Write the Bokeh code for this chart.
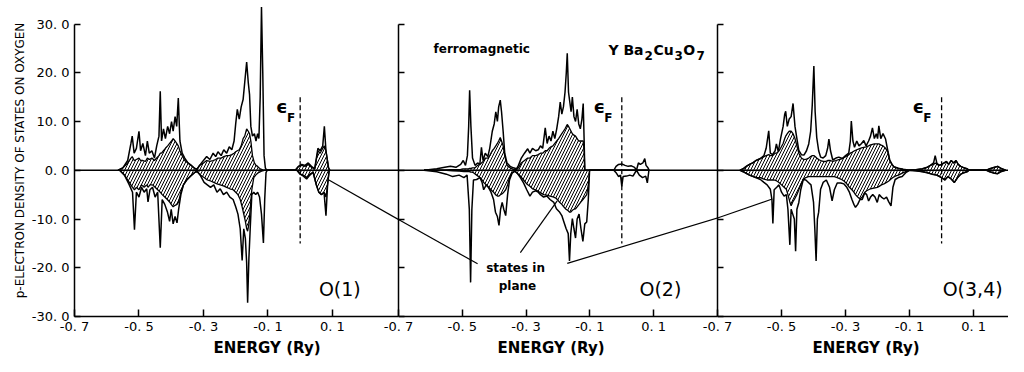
from math import pi
from bokeh.plotting import figure
from bokeh.layouts import row
from bokeh.models import FixedTicker, Span, Label, Title
from bokeh.embed import file_html
from bokeh.resources import INLINE

FONT = "DejaVu Sans"

# ---------------- data ----------------
x_ticks = [-0.7, -0.5, -0.3, -0.1, 0.1]
x_tick_labels = ["-0. 7", "-0. 5", "-0. 3", "-0. 1", "0. 1"]
y_ticks = [-30, -20, -10, 0, 10, 20, 30]
y_tick_labels = ["-30. 0", "-20. 0", "-10. 0", "0. 0", "10. 0", "20. 0", "30. 0"]
panel_names = ["O(1)", "O(2)", "O(3,4)"]
fermi_energy = 0.0

# O(1) spin up: energy, total p-DOS, in-plane p-DOS
e1_up = [-0.565, -0.550, -0.535, -0.525, -0.521, -0.515, -0.508, -0.500, -0.495, -0.488,
         -0.480, -0.474, -0.468, -0.460, -0.452, -0.445, -0.438, -0.434, -0.430, -0.424,
         -0.418, -0.411, -0.405, -0.399, -0.394, -0.388, -0.383, -0.378, -0.373, -0.366,
         -0.358, -0.348, -0.338, -0.328, -0.320, -0.312, -0.300, -0.290, -0.280, -0.270,
         -0.262, -0.255, -0.245, -0.237, -0.228, -0.220, -0.212, -0.205, -0.200, -0.195,
         -0.189, -0.183, -0.177, -0.172, -0.166, -0.161, -0.157, -0.153, -0.148, -0.142,
         -0.137, -0.132, -0.128, -0.124, -0.120, -0.116, -0.112, -0.108, -0.104, -0.015,
         -0.005, 0.005, 0.015, 0.025, 0.035, 0.045, 0.055, 0.062, 0.070, 0.075,
         0.080, 0.088, 0.092]
tot1_up = [0, 0.5, 2.0, 5.5, 7.0, 3.5, 4.5, 8.0, 4.0, 5.5,
           3.0, 6.0, 3.5, 4.0, 2.5, 5.0, 7.0, 16.2, 6.0, 8.5,
           6.5, 9.0, 7.5, 10.0, 8.0, 11.0, 9.0, 14.8, 6.0, 3.5,
           2.5, 1.5, 1.0, 0.4, 0.2, 1.0, 2.0, 2.8, 2.2, 3.5,
           2.8, 3.8, 3.0, 4.2, 3.5, 4.8, 4.2, 6.0, 9.5, 12.5,
           10.5, 13.0, 14.5, 18.0, 22.2, 18.0, 15.5, 9.0, 7.0, 7.5,
           6.0, 7.5, 6.5, 15.0, 33.5, 20.0, 3.0, 0.5, 0, 0,
           0.8, 1.2, 1.0, 1.5, 0.8, 0.3, 4.5, 4.0, 5.0, 9.0,
           4.0, 0.5, 0]
pl1_up = [0, 0.5, 1.5, 2.5, 2.8, 2.0, 2.2, 2.5, 2.0, 2.0,
          1.8, 2.5, 2.2, 2.5, 2.0, 2.5, 3.0, 3.5, 3.5, 4.0,
          4.5, 5.0, 5.5, 6.0, 6.5, 6.0, 5.5, 5.0, 4.0, 3.0,
          2.0, 1.5, 1.0, 0.4, 0.2, 1.0, 1.5, 2.0, 1.8, 2.0,
          2.2, 2.5, 2.5, 2.8, 3.0, 3.0, 3.2, 3.5, 3.8, 4.0,
          4.2, 5.0, 6.5, 7.0, 8.5, 8.0, 7.5, 6.0, 3.0, 1.5,
          1.0, 0.8, 0.5, 0.3, 0.2, 0.1, 0, 0, 0, 0,
          0.8, 1.0, 0.8, 1.2, 0.6, 0.3, 4.0, 3.5, 4.5, 5.0,
          4.0, 0.5, 0]

# O(1) spin down
e1_dn = [-0.560, -0.545, -0.530, -0.520, -0.514, -0.508, -0.500, -0.492, -0.484, -0.476,
         -0.472, -0.466, -0.458, -0.450, -0.442, -0.434, -0.428, -0.420, -0.412, -0.405,
         -0.400, -0.394, -0.388, -0.382, -0.377, -0.370, -0.362, -0.352, -0.340, -0.328,
         -0.320, -0.310, -0.298, -0.288, -0.278, -0.268, -0.258, -0.248, -0.238, -0.228,
         -0.218, -0.208, -0.200, -0.193, -0.186, -0.180, -0.175, -0.170, -0.166, -0.163,
         -0.159, -0.155, -0.150, -0.144, -0.138, -0.132, -0.126, -0.120, -0.114, -0.110,
         -0.106, -0.102, -0.010, 0.000, 0.010, 0.020, 0.030, 0.040, 0.050, 0.058,
         0.066, 0.074, 0.080, 0.085, 0.090]
tot1_dn = [0, -1.0, -3.0, -4.5, -12.2, -4.5, -5.5, -3.5, -4.5, -3.8,
           -6.5, -4.0, -3.5, -5.5, -4.5, -15.9, -6.0, -7.0, -8.5, -10.5,
           -8.0, -11.0, -9.5, -10.8, -8.0, -5.0, -3.0, -2.0, -1.2, -0.5,
           -0.2, -1.0, -2.5, -3.0, -3.5, -3.0, -4.5, -3.8, -5.0, -4.5,
           -5.5, -6.0, -7.5, -9.0, -12.0, -18.5, -12.0, -14.0, -19.0, -27.2,
           -18.0, -12.0, -5.0, -4.5, -5.0, -4.5, -5.5, -9.0, -14.9, -6.0,
           -0.5, 0, 0, -0.8, -1.2, -1.8, -1.0, -0.4, -3.0, -4.5,
           -5.0, -4.5, -9.3, -3.0, 0]
pl1_dn = [0, -1.0, -2.5, -3.5, -4.0, -3.5, -4.0, -3.0, -3.5, -3.0,
          -3.5, -3.0, -3.0, -3.5, -4.0, -4.5, -5.0, -5.5, -6.0, -6.5,
          -7.0, -7.5, -7.2, -7.0, -6.5, -4.5, -3.0, -2.0, -1.2, -0.5,
          -0.2, -1.0, -1.5, -2.0, -2.2, -2.5, -2.8, -3.0, -3.2, -3.5,
          -3.8, -4.0, -4.5, -5.0, -6.0, -7.5, -9.0, -10.5, -12.0, -12.5,
          -11.0, -8.0, -4.0, -1.5, -1.0, -0.6, -0.4, -0.2, -0.1, 0,
          0, 0, 0, -0.8, -1.0, -1.5, -0.8, -0.4, -3.0, -4.5,
          -5.0, -4.5, -5.5, -3.0, 0]

# O(2) spin up
e2_up = [-0.620, -0.580, -0.555, -0.537, -0.520, -0.505, -0.497, -0.490, -0.484, -0.480,
         -0.477, -0.473, -0.468, -0.460, -0.452, -0.445, -0.440, -0.435, -0.428, -0.420,
         -0.414, -0.406, -0.400, -0.395, -0.390, -0.386, -0.381, -0.377, -0.372, -0.367,
         -0.360, -0.350, -0.340, -0.330, -0.324, -0.315, -0.305, -0.295, -0.288, -0.280,
         -0.270, -0.262, -0.255, -0.248, -0.240, -0.234, -0.228, -0.222, -0.216, -0.210,
         -0.204, -0.198, -0.193, -0.188, -0.183, -0.178, -0.174, -0.171, -0.167, -0.163,
         -0.159, -0.155, -0.150, -0.145, -0.140, -0.135, -0.130, -0.125, -0.121, -0.118,
         -0.116, -0.025, -0.018, -0.010, 0.000, 0.010, 0.020, 0.030, 0.040, 0.046,
         0.052, 0.058, 0.066, 0.072, 0.076, 0.082, 0.086]
tot2_up = [0, 0.3, 0.6, 0.8, 0.6, 1.2, 2.0, 1.0, 3.0, 9.0,
           16.4, 9.0, 2.5, 1.0, 1.5, 1.2, 4.7, 2.0, 3.5, 2.8,
           4.5, 8.0, 9.5, 12.0, 10.0, 13.0, 14.4, 12.0, 8.0, 3.5,
           1.5, 0.8, 0.5, 0.3, 1.0, 2.5, 3.5, 4.4, 3.5, 4.5,
           4.0, 4.2, 5.0, 4.5, 8.7, 5.5, 7.0, 6.0, 8.0, 6.5,
           8.5, 11.0, 14.0, 11.5, 13.0, 16.0, 20.0, 24.0, 16.0, 14.0,
           12.0, 15.0, 11.0, 10.0, 12.5, 9.5, 8.5, 10.5, 13.7, 6.0,
           0, 0, 0.8, 1.2, 1.3, 1.0, 0.8, 0.9, 0.6, 0,
           1.5, 1.2, 1.5, 2.4, 1.0, 0.5, 0]
pl2_up = [0, 0, 0, 0.1, 0.1, 0.2, 0.3, 0.3, 0.3, 0.3,
          0.4, 0.4, 0.5, 0.5, 1.0, 1.2, 1.5, 1.8, 2.5, 2.5,
          3.0, 4.0, 4.5, 5.0, 5.5, 6.0, 6.7, 6.0, 5.0, 3.0,
          1.0, 0.5, 0.2, 0.1, 0.5, 1.5, 2.0, 2.5, 2.5, 3.0,
          3.0, 3.2, 3.5, 3.5, 4.0, 4.0, 4.5, 4.8, 5.0, 5.5,
          6.0, 6.5, 7.0, 7.5, 8.0, 8.5, 9.0, 9.4, 9.0, 8.5,
          8.0, 7.5, 7.2, 7.0, 6.5, 6.0, 6.0, 6.0, 6.0, 4.0,
          0, 0, 0, 0, 0, 0, 0, 0, 0, 0,
          0, 0, 0, 0, 0, 0, 0]

# O(2) spin down
e2_dn = [-0.620, -0.580, -0.550, -0.530, -0.510, -0.495, -0.485, -0.478, -0.474, -0.470,
         -0.465, -0.455, -0.445, -0.438, -0.433, -0.425, -0.418, -0.410, -0.402, -0.396,
         -0.390, -0.385, -0.380, -0.375, -0.370, -0.364, -0.358, -0.352, -0.344, -0.335,
         -0.328, -0.318, -0.308, -0.298, -0.288, -0.280, -0.270, -0.262, -0.255, -0.245,
         -0.235, -0.225, -0.213, -0.205, -0.196, -0.188, -0.182, -0.175, -0.168, -0.164,
         -0.160, -0.155, -0.150, -0.145, -0.140, -0.134, -0.128, -0.122, -0.116, -0.110,
         -0.105, -0.101, -0.025, -0.018, -0.010, -0.004, 0.000, 0.004, 0.015, 0.025,
         0.035, 0.046, 0.055, 0.065, 0.075, 0.080, 0.085]
tot2_dn = [0, -0.3, -0.8, -1.3, -1.0, -1.5, -1.0, -8.0, -23.0, -8.0,
           -2.0, -1.9, -1.5, -2.5, -4.0, -3.0, -3.5, -4.5, -6.0, -8.6,
           -9.5, -11.3, -8.0, -6.6, -8.0, -9.3, -5.0, -2.0, -0.6, -0.2,
           -0.6, -1.5, -2.6, -4.0, -5.3, -4.5, -4.2, -4.5, -5.0, -5.5,
           -5.3, -6.0, -6.6, -7.9, -8.5, -9.3, -10.5, -11.9, -13.0, -18.6,
           -13.0, -9.9, -12.0, -13.9, -10.0, -9.0, -12.0, -14.6, -11.0, -10.6,
           -6.0, 0, 0, -0.5, -1.3, -1.0, -3.3, -1.3, -1.2, -1.0,
           -1.2, 0, -1.0, -1.5, -1.2, -2.6, 0]
pl2_dn = [0, 0, 0, -0.1, -0.2, -0.3, -0.3, -0.3, -0.4, -0.4,
          -0.5, -1.0, -1.5, -2.0, -2.5, -3.0, -3.5, -4.0, -4.5, -5.0,
          -5.3, -5.3, -5.0, -4.8, -4.5, -4.0, -3.0, -1.5, -0.5, -0.2,
          -0.6, -1.2, -2.0, -2.8, -3.3, -3.8, -4.0, -4.3, -4.6, -5.0,
          -5.1, -5.3, -5.5, -5.8, -6.5, -7.0, -7.5, -8.0, -8.3, -8.6,
          -8.6, -8.2, -8.0, -7.9, -7.5, -7.0, -6.5, -6.0, -5.5, -5.0,
          -3.0, 0, 0, 0, 0, 0, 0, 0, 0, 0,
          0, 0, 0, 0, 0, 0, 0]

# O(3,4) spin up
e3_up = [-0.630, -0.620, -0.610, -0.600, -0.590, -0.580, -0.566, -0.555, -0.548, -0.540,
         -0.535, -0.528, -0.520, -0.516, -0.510, -0.503, -0.495, -0.490, -0.487, -0.482,
         -0.476, -0.470, -0.464, -0.458, -0.452, -0.446, -0.438, -0.430, -0.422, -0.415,
         -0.409, -0.404, -0.399, -0.395, -0.390, -0.384, -0.378, -0.370, -0.362, -0.356,
         -0.352, -0.347, -0.340, -0.330, -0.321, -0.310, -0.300, -0.290, -0.285, -0.282,
         -0.277, -0.272, -0.265, -0.258, -0.250, -0.243, -0.236, -0.228, -0.222, -0.216,
         -0.210, -0.204, -0.200, -0.196, -0.190, -0.183, -0.175, -0.168, -0.162, -0.155,
         -0.149, -0.135, -0.120, -0.100, -0.080, -0.060, -0.045, -0.035, -0.025, -0.020,
         -0.015, -0.008, 0.000, 0.008, 0.015, 0.022, 0.030, 0.038, 0.045, 0.052,
         0.060, 0.070, 0.080, 0.086, 0.140, 0.150, 0.165, 0.175, 0.185, 0.200]
tot3_up = [0, 0.3, 0.8, 1.2, 1.5, 2.0, 2.4, 3.0, 4.5, 8.1,
           3.5, 3.2, 4.0, 5.4, 3.8, 6.5, 9.0, 11.5, 12.1, 9.0,
           10.5, 11.0, 13.7, 9.0, 6.5, 4.1, 3.2, 3.1, 4.0, 5.4,
           8.0, 13.4, 21.4, 12.0, 6.7, 4.0, 2.7, 2.5, 3.0, 4.5,
           6.4, 4.0, 2.1, 2.5, 2.7, 2.4, 3.0, 3.5, 6.0, 10.1,
           6.0, 4.7, 6.0, 5.0, 5.5, 6.1, 5.0, 6.0, 7.0, 8.7,
           6.5, 7.5, 6.5, 9.1, 6.5, 7.5, 6.4, 4.0, 2.1, 1.2,
           0.7, 0.4, 0.2, 0, 0.1, 0.3, 0.6, 1.0, 1.5, 3.0,
           1.5, 1.0, 1.2, 1.5, 1.8, 1.2, 2.0, 1.5, 2.0, 1.2,
           0.8, 0.5, 0.3, 0, 0, 0.3, 0.6, 0.8, 0.4, 0]
pl3_up = [0, 0.3, 0.8, 1.2, 1.5, 2.0, 2.4, 2.8, 3.0, 3.2,
          3.0, 3.0, 3.5, 3.5, 3.8, 4.5, 5.5, 6.5, 7.0, 7.5,
          8.0, 8.0, 7.5, 6.5, 5.0, 3.5, 2.5, 2.2, 2.3, 2.5,
          2.8, 3.0, 3.0, 2.8, 2.5, 2.2, 2.0, 1.8, 1.8, 2.0,
          2.0, 2.0, 1.8, 2.0, 2.2, 2.4, 2.8, 3.2, 3.5, 3.6,
          3.8, 4.0, 4.2, 4.4, 4.6, 4.7, 4.8, 5.0, 5.2, 5.3,
          5.4, 5.4, 5.4, 5.4, 5.2, 5.0, 4.5, 3.8, 2.0, 1.2,
          0.7, 0.4, 0.2, 0, 0.1, 0.3, 0.6, 1.0, 1.2, 1.5,
          1.3, 1.0, 1.2, 1.5, 1.8, 1.2, 2.0, 1.5, 2.0, 1.2,
          0.8, 0.5, 0.3, 0, 0, 0.3, 0.6, 0.8, 0.4, 0]

# O(3,4) spin down
e3_dn = [-0.630, -0.620, -0.600, -0.580, -0.566, -0.555, -0.545, -0.535, -0.530, -0.527,
         -0.523, -0.515, -0.508, -0.500, -0.492, -0.485, -0.480, -0.474, -0.470, -0.465,
         -0.460, -0.456, -0.452, -0.446, -0.440, -0.432, -0.424, -0.416, -0.408, -0.400,
         -0.396, -0.392, -0.388, -0.384, -0.378, -0.370, -0.360, -0.350, -0.342, -0.335,
         -0.326, -0.315, -0.305, -0.296, -0.288, -0.280, -0.274, -0.269, -0.262, -0.255,
         -0.248, -0.240, -0.234, -0.228, -0.222, -0.215, -0.208, -0.201, -0.195, -0.188,
         -0.180, -0.172, -0.165, -0.158, -0.152, -0.145, -0.135, -0.123, -0.112, -0.100,
         -0.080, -0.060, -0.045, -0.030, -0.015, 0.000, 0.010, 0.020, 0.030, 0.040,
         0.050, 0.060, 0.070, 0.080, 0.086, 0.140, 0.150, 0.165, 0.175, 0.185,
         0.200]
tot3_dn = [0, -0.3, -1.0, -1.5, -1.9, -2.5, -3.0, -3.9, -6.0, -10.9,
           -4.0, -3.5, -3.0, -4.5, -5.3, -5.0, -8.0, -15.3, -8.0, -9.0,
           -10.0, -16.6, -8.0, -6.6, -4.0, -1.9, -2.0, -2.5, -3.0, -6.6,
           -12.0, -18.6, -10.0, -8.6, -3.9, -2.5, -2.0, -3.5, -6.3, -4.0,
           -2.6, -2.6, -2.8, -3.5, -4.5, -6.0, -7.0, -7.6, -7.0, -6.0,
           -6.0, -4.6, -5.0, -6.3, -5.5, -5.0, -5.5, -6.6, -5.0, -5.5,
           -5.9, -5.5, -6.5, -7.3, -3.5, -1.9, -1.5, -1.3, -0.5, 0,
           -0.1, -0.3, -0.5, -0.8, -1.0, -1.5, -2.0, -1.3, -1.8, -2.5,
           -1.5, -0.8, -0.5, -0.3, 0, 0, -0.3, -0.6, -0.7, -0.3,
           0]
pl3_dn = [0, -0.3, -1.0, -1.5, -1.5, -1.8, -2.0, -2.0, -2.0, -2.0,
          -2.0, -2.2, -2.5, -3.0, -3.5, -3.9, -5.0, -6.5, -7.3, -6.5,
          -6.0, -5.5, -5.0, -4.0, -3.0, -1.8, -1.5, -1.3, -1.3, -1.3,
          -1.3, -1.3, -1.3, -1.3, -1.3, -1.3, -1.3, -1.3, -1.3, -1.3,
          -1.5, -1.8, -2.2, -2.8, -3.5, -4.0, -4.5, -5.0, -5.5, -5.9,
          -5.5, -4.5, -4.2, -4.0, -3.8, -3.7, -3.6, -3.5, -3.3, -3.0,
          -2.8, -2.5, -2.2, -1.8, -1.5, -1.2, -1.0, -0.6, -0.3, 0,
          -0.1, -0.3, -0.5, -0.8, -1.0, -1.5, -2.0, -1.3, -1.8, -2.5,
          -1.5, -0.8, -0.5, -0.3, 0, 0, -0.3, -0.6, -0.7, -0.3,
          0]

for arrs in [(e1_up, tot1_up, pl1_up), (e1_dn, tot1_dn, pl1_dn), (e2_up, tot2_up, pl2_up),
             (e2_dn, tot2_dn, pl2_dn), (e3_up, tot3_up, pl3_up), (e3_dn, tot3_dn, pl3_dn)]:
    assert len(arrs[0]) == len(arrs[1]) == len(arrs[2]), [len(a) for a in arrs]

FH = 356


def txt(p, x, y, text, size, style="normal", align="left", baseline="alphabetic", **kw):
    p.add_layout(Label(x=x, y=y, text=text, text_font=FONT, text_font_size=size,
                       text_font_style=style, text_align=align, text_baseline=baseline,
                       text_color="black", **kw))


def make_panel(curves, x_end, width, border_left, margin_left, first, title_offset):
    p = figure(width=width, height=FH, x_range=(-0.7, x_end), y_range=(-30, 34),
               output_backend="svg", toolbar_location=None,
               min_border_left=border_left, min_border_right=0,
               min_border_top=4, min_border_bottom=30,
               margin=(0, 0, 0, margin_left))
    p.outline_line_color = None
    p.grid.visible = False
    p.background_fill_color = None
    p.border_fill_color = None

    xa = p.xaxis[0]
    xa.ticker = FixedTicker(ticks=x_ticks)
    xa.major_label_overrides = dict(zip(x_ticks, x_tick_labels))
    xa.major_tick_in = 7
    xa.major_tick_out = 0
    xa.minor_tick_line_color = None
    xa.axis_line_width = 1.5
    xa.major_tick_line_width = 1.5
    xa.major_label_text_font = FONT
    xa.major_label_text_font_size = "13px"
    xa.major_label_text_color = "black"
    xa.major_label_standoff = 2

    ya = p.yaxis[0]
    ya.ticker = FixedTicker(ticks=y_ticks)
    ya.bounds = (-30, 30)
    ya.major_tick_in = 6
    ya.major_tick_out = 0
    ya.minor_tick_line_color = None
    ya.axis_line_width = 1.5
    ya.major_tick_line_width = 1.5
    ya.major_label_text_font = FONT
    ya.major_label_text_font_size = "13px"
    ya.major_label_text_color = "black"
    if first:
        ya.major_label_overrides = dict(zip(y_ticks, y_tick_labels))
        ya.major_label_standoff = 5
    else:
        ya.major_label_overrides = {t: "" for t in y_ticks}
        ya.major_label_standoff = 0

    p.add_layout(Title(text="ENERGY (Ry)", align="left", offset=title_offset, standoff=0,
                       text_font=FONT, text_font_size="15px", text_font_style="bold",
                       text_color="black"), "below")

    p.add_layout(Span(location=0, dimension="width", line_color="black", line_width=1.3))

    for e, tot, pl in curves:
        p.varea(x=e, y1=0, y2=pl, fill_color=None, fill_alpha=0,
                hatch_pattern="/", hatch_color="black", hatch_scale=6, hatch_weight=1.0)
        p.line(e, pl, line_color="black", line_width=1.3)
        p.line(e, tot, line_color="black", line_width=1.5)

    p.segment(x0=[fermi_energy], y0=[15], x1=[fermi_energy], y1=[-15],
              line_color="black", line_width=1.3, line_dash="5 3")
    return p


# panel frames: 74-398, 398-717, 717-1008 px
p1 = make_panel([(e1_up, tot1_up, pl1_up), (e1_dn, tot1_dn, pl1_dn)],
                0.305, 398, 74, 0, True, 139)
p2 = make_panel([(e2_up, tot2_up, pl2_up), (e2_dn, tot2_dn, pl2_dn)],
                0.300, 335, 16, -16, False, 99)
p3 = make_panel([(e3_up, tot3_up, pl3_up), (e3_dn, tot3_dn, pl3_dn)],
                0.209, 307, 16, -16, False, 95)

# y-axis title
p1.add_layout(Title(text="p-ELECTRON DENSITY OF STATES ON OXYGEN", align="center", offset=-18,
                    standoff=4, text_font=FONT, text_font_size="12px", text_font_style="normal",
                    text_color="black"), "left")

# epsilon_F labels
for p, ex, fx in [(p1, -0.075, -0.041), (p2, -0.089, -0.055), (p3, -0.091, -0.057)]:
    txt(p, ex, 13.0, "\u03f5", "18px", "bold")
    txt(p, fx, 10.8, "F", "12px", "bold")

# panel names
for p, cx, name in [(p1, 0.123, panel_names[0]), (p2, 0.121, panel_names[1]), (p3, 0.097, panel_names[2])]:
    txt(p, cx, -24.4, name, "19px", "normal", align="center", baseline="middle")

# header texts in panel 2
txt(p2, -0.59, 24.8, "ferromagnetic", "12px", "bold")
txt(p2, -0.042, 24.6, "Y Ba", "14px", "bold")
txt(p2, 0.071, 23.6, "2", "12px", "bold")
txt(p2, 0.099, 24.6, "Cu", "14px", "bold")
txt(p2, 0.165, 23.6, "3", "12px", "bold")
txt(p2, 0.193, 24.6, "O", "14px", "bold")
txt(p2, 0.234, 23.6, "7", "12px", "bold")

# "states in plane" annotation and pointers
txt(p2, -0.333, -20.1, "states in", "12px", "bold", align="center", baseline="middle")
txt(p2, -0.327, -23.8, "plane", "12px", "bold", align="center", baseline="middle")
p1.line([0.089, 0.305], [-2.0, -10.1], line_color="black", line_width=1.2)
p2.line([-0.7, -0.452], [-10.1, -19.2], line_color="black", line_width=1.2)
p2.line([-0.318, -0.2025], [-16.9, -6.3], line_color="black", line_width=1.2)
p2.line([-0.171, 0.300], [-19.1, -9.8], line_color="black", line_width=1.2)
p3.line([-0.7, -0.529], [-9.8, -5.9], line_color="black", line_width=1.2)

layout = row(p1, p2, p3)
open("out.html", "w").write(file_html(layout, INLINE))
